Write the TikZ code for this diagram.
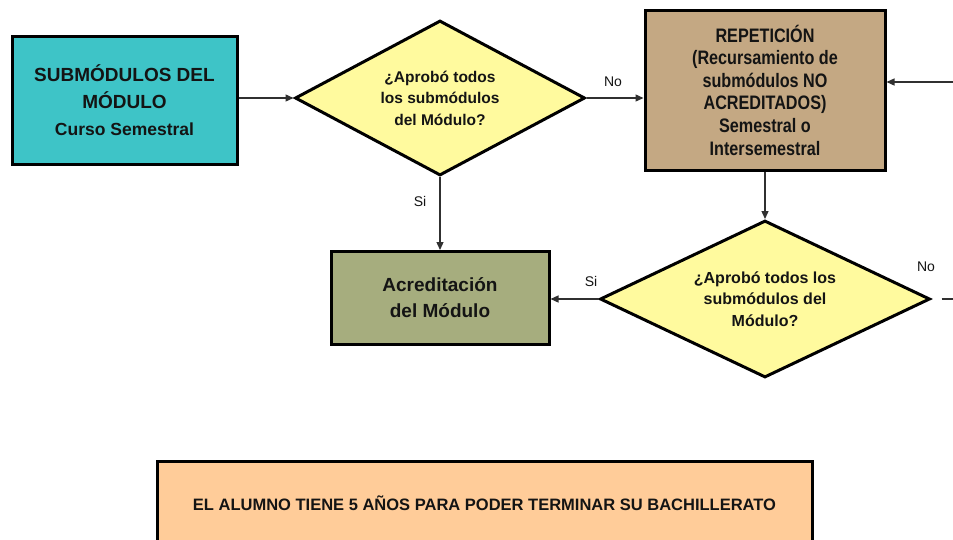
\documentclass[tikz,border=0pt]{standalone}
\usepackage{fontspec}
\setmainfont{Liberation Sans}
\newfontfamily\narrowsans{Liberation Sans}[FakeStretch=0.83]
\usetikzlibrary{shapes.geometric,arrows.meta}
\definecolor{cyanbox}{HTML}{3EC4C7}
\definecolor{tanbox}{HTML}{C4A883}
\definecolor{olivebox}{HTML}{A6AD7E}
\definecolor{yellowd}{HTML}{FFFA9E}
\definecolor{peach}{HTML}{FFCC99}
\definecolor{txt}{HTML}{141414}
\definecolor{linec}{HTML}{303030}
\begin{document}
\begin{tikzpicture}[x=1pt,y=-1pt,
  box/.style={draw=black, line width=3pt, inner sep=0pt, align=center, text=txt},
  dec/.style={diamond, draw=black, line width=3pt, fill=yellowd, inner sep=0pt, align=center, text=txt},
  conn/.style={line width=1.3pt, draw=linec, -{Triangle[length=8pt,width=7pt]}},
  plain/.style={line width=1.3pt, draw=linec},
  lbl/.style={font=\fontsize{14}{16}\selectfont, text=txt, inner sep=0pt}]
\useasboundingbox (0,0) rectangle (953,539);
\fill[white] (0,0) rectangle (953,539);

\node[box, fill=cyanbox, minimum width=225pt, minimum height=128pt,
  font=\bfseries\fontsize{19}{27}\selectfont] (sub) at (124.5,100)
  {SUBMÓDULOS DEL\\ MÓDULO\\ {\fontsize{17.5}{27}\selectfont Curso Semestral}};

\node[dec, aspect=1.87, minimum width=290pt, minimum height=155pt,
  font=\bfseries\fontsize{15.5}{21.5}\selectfont] (d1) at (440,98)
  {¿Aprobó todos\\ los submódulos\\ del Módulo?};

\node[box, fill=tanbox, minimum width=240pt, minimum height=160pt,
  font=\narrowsans\bfseries\fontsize{19.5}{22.6}\selectfont] (rep) at (765,90)
  {REPETICIÓN\\ (Recursamiento de\\ submódulos NO\\ ACREDITADOS)\\ Semestral o\\ Intersemestral};

\node[dec, aspect=2.1, minimum width=330pt, minimum height=157pt,
  font=\bfseries\fontsize{16}{21.5}\selectfont] (d2) at (765,299)
  {¿Aprobó todos los\\ submódulos del\\ Módulo?};

\node[box, fill=olivebox, minimum width=218pt, minimum height=93pt,
  font=\bfseries\fontsize{19}{26}\selectfont] (acr) at (440,298)
  {Acreditación\\ del Módulo};

\node[box, fill=peach, anchor=north, minimum width=655pt, minimum height=84pt,
  font=\bfseries\fontsize{16.5}{20}\selectfont] (nota) at (484.5,460)
  {EL ALUMNO TIENE 5 AÑOS PARA PODER TERMINAR SU BACHILLERATO};

\coordinate (rin) at (953,82);
\coordinate (rout) at (953,299);

\draw[conn] (sub.east |- d1.west) -- (d1.west);
\draw[conn] (d1.east) -- (d1.east -| rep.west);
\draw[conn] (rin) -- (rin -| rep.east);
\draw[conn] (rep.south) -- (d2.north);
\draw[conn] (d1.south) -- (acr.north);
\draw[conn] (d2.west) -- (d2.west -| acr.east);
\draw[plain] ([xshift=10pt]d2.east) -- (rout);

\node[lbl] (lno1) at (613,82) {No};
\node[lbl] (lsi1) at (420,201) {Si};
\node[lbl] (lsi2) at (591,281) {Si};
\node[lbl] (lno2) at (926,267) {No};
\end{tikzpicture}
\end{document}
